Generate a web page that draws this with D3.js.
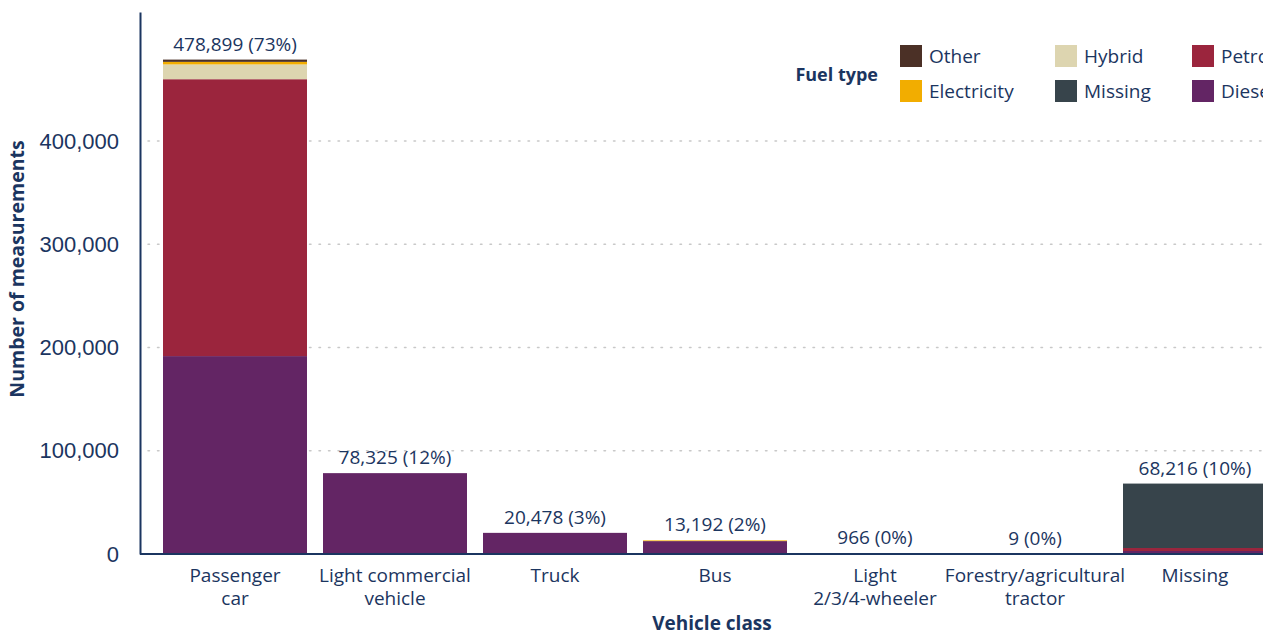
<!DOCTYPE html>
<html>
<head>
<meta charset="utf-8">
<script src="https://cdn.jsdelivr.net/npm/d3@7"></script>
<style>
  body { margin: 0; background: #fff; overflow: hidden; }
  svg { display: block; font-family: "Open Sans", Lato, sans-serif; }
  .tick text { fill: #1b3560; }
</style>
</head>
<body>
<div class="chart"></div>
<script>
// vehicle classes (second line after \n)
var categories = ['Passenger\ncar', 'Light commercial\nvehicle', 'Truck', 'Bus',
                  'Light\n2/3/4-wheeler', 'Forestry/agricultural\ntractor', 'Missing'];

// stack order, bottom to top
var fuels = ['Diesel', 'Petrol', 'Missing', 'Hybrid', 'Electricity', 'Other'];
var fuelColors = ['#632564', '#9b253d', '#37444b', '#ddd5b0', '#f2ad00', '#4b3026'];

// values per fuel, one per vehicle class
var diesel      = [191700, 78325, 20478, 12500, 500, 9, 2900];
var petrol      = [268200, 0, 0, 0, 466, 0, 2900];
var missingFuel = [0, 0, 0, 0, 0, 0, 62416];
var hybrid      = [14300, 0, 0, 0, 0, 0, 0];
var electricity = [2500, 0, 0, 692, 0, 0, 0];
var other       = [2199, 0, 0, 0, 0, 0, 0];

var yTicks = [0, 100000, 200000, 300000, 400000];

var seriesValues = [diesel, petrol, missingFuel, hybrid, electricity, other];

var rows = categories.map(function (c, i) {
  var r = { cat: c };
  fuels.forEach(function (f, k) { r[f] = seriesValues[k][i]; });
  r.total = d3.sum(seriesValues, function (s) { return s[i]; });
  return r;
});
var grand = d3.sum(rows, function (r) { return r.total; });

var width = 1263, height = 634;
var navy = '#1b3560';

var svg = d3.select('.chart').append('svg').attr('width', width).attr('height', height);

var x = d3.scaleBand().domain(categories).range([140, 1290]).paddingInner(0.1).paddingOuter(0.14375);
var y = d3.scaleLinear().domain([0, 525000]).range([554, 12]);

var color = d3.scaleOrdinal().domain(fuels).range(fuelColors);

// grid
svg.append('g').selectAll('line').data(yTicks.slice(1)).enter().append('line')
  .attr('x1', 148).attr('x2', width).attr('y1', function (d) { return y(d); }).attr('y2', function (d) { return y(d); })
  .attr('stroke', '#c8c8c8').attr('stroke-width', 1.5).attr('stroke-dasharray', '1.5,8').attr('stroke-linecap', 'round');

// bars
var stack = d3.stack().keys(fuels)(rows);
svg.append('g').selectAll('g').data(stack).enter().append('g')
  .attr('fill', function (d) { return color(d.key); })
  .selectAll('rect').data(function (d) { return d; }).enter().append('rect')
  .attr('x', function (d) { return x(d.data.cat); })
  .attr('width', x.bandwidth())
  .attr('y', function (d) { return y(d[1]); })
  .attr('height', function (d) { return y(d[0]) - y(d[1]); });

// totals
var fmt = d3.format(',');
svg.append('g').selectAll('text').data(rows).enter().append('text')
  .attr('x', function (d) { return x(d.cat) + x.bandwidth() / 2; })
  .attr('y', function (d) { return y(d.total) - 9; })
  .attr('text-anchor', 'middle').attr('fill', navy).style('font-size', '19px')
  .text(function (d) { return fmt(d.total) + ' (' + Math.round(d.total / grand * 100) + '%)'; });

// y axis
var yAxis = svg.append('g').attr('transform', 'translate(140,0)')
  .call(d3.axisLeft(y).tickValues(yTicks).tickSize(0).tickPadding(21).tickFormat(fmt));
yAxis.select('.domain').attr('stroke', navy).attr('stroke-width', 2);
yAxis.selectAll('text').style('font-size', '22px').attr('fill', navy);

// x axis
var xAxis = svg.append('g').attr('transform', 'translate(0,554)')
  .call(d3.axisBottom(x).tickSize(0).tickFormat(''));
xAxis.select('.domain').attr('stroke', navy).attr('stroke-width', 2).attr('d', 'M140,0H' + width);

svg.append('g').selectAll('text').data(categories).enter().append('text')
  .attr('x', function (d) { return x(d) + x.bandwidth() / 2; })
  .attr('y', 582).attr('text-anchor', 'middle').attr('fill', navy).style('font-size', '19px')
  .selectAll('tspan').data(function (d) { return d.split('\n'); }).enter().append('tspan')
  .attr('x', function () { var p = this.parentNode.__data__; return x(p) + x.bandwidth() / 2; })
  .attr('dy', function (d, i) { return i ? 23 : 0; })
  .text(function (d) { return d; });

// axis titles
svg.append('text').attr('x', 712).attr('y', 630).attr('text-anchor', 'middle')
  .attr('fill', navy).style('font-size', '19px').style('font-weight', 'bold').text('Vehicle class');
svg.append('text').attr('transform', 'translate(24,269) rotate(-90)').attr('text-anchor', 'middle')
  .attr('fill', navy).style('font-size', '19.5px').style('font-weight', 'bold').text('Number of measurements');

// legend
var legendOrder = fuels.slice().reverse();
var colX = [900, 1055, 1192];
var legend = svg.append('g');
legend.append('text').attr('x', 878).attr('y', 81).attr('text-anchor', 'end')
  .attr('fill', navy).style('font-size', '18px').style('font-weight', 'bold').text('Fuel type');
var item = legend.selectAll('g.item').data(legendOrder).enter().append('g').attr('class', 'item')
  .attr('transform', function (d, i) { return 'translate(' + colX[Math.floor(i / 2)] + ',' + (45 + (i % 2) * 35) + ')'; });
item.append('rect').attr('width', 22).attr('height', 22).attr('fill', function (d) { return color(d); });
item.append('text').attr('x', 29).attr('y', 18).attr('fill', navy).style('font-size', '19px')
  .text(function (d) { return d; });
</script>
</body>
</html>
